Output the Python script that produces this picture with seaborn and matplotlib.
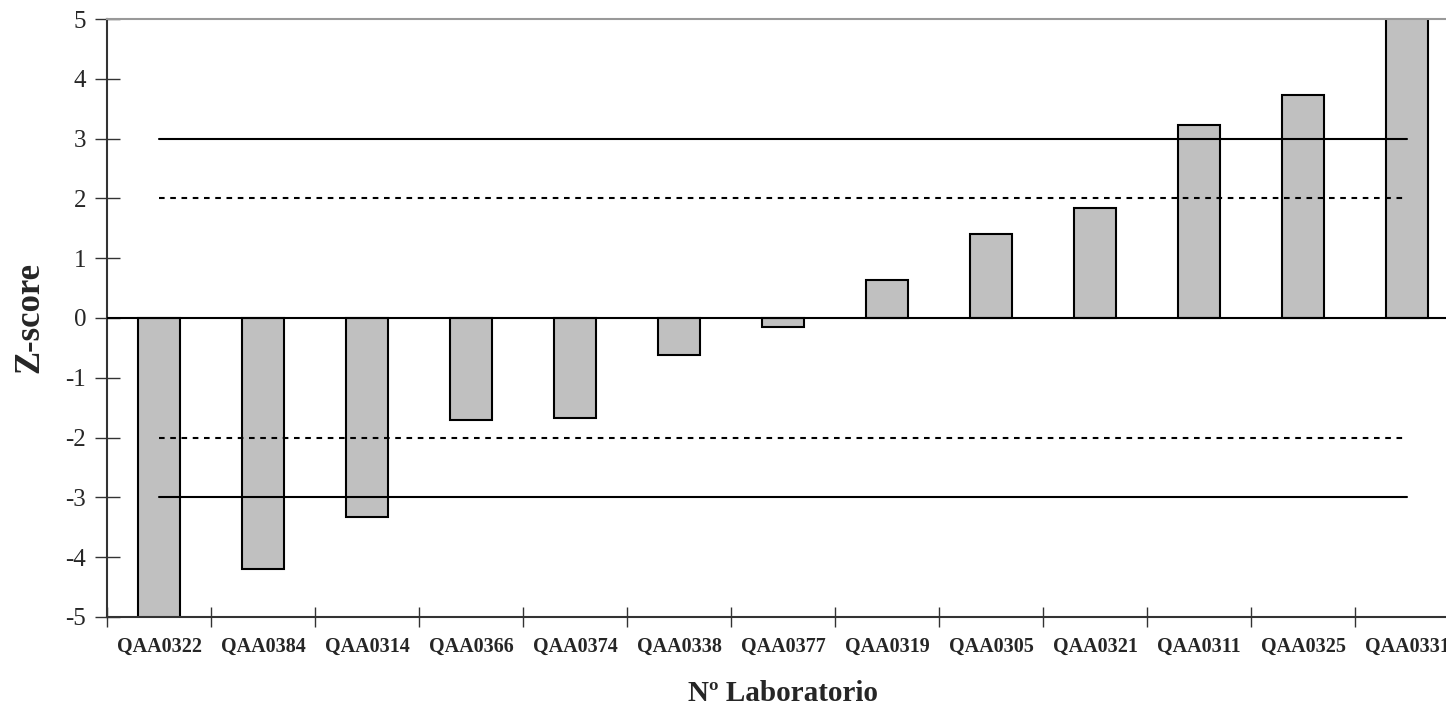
import matplotlib
matplotlib.use("Agg")
import matplotlib.pyplot as plt
import seaborn as sns
import numpy as np
import pandas as pd

# data (first and last bars run off the scale)
labs = ['QAA0322', 'QAA0384', 'QAA0314', 'QAA0366', 'QAA0374', 'QAA0338', 'QAA0377',
        'QAA0319', 'QAA0305', 'QAA0321', 'QAA0311', 'QAA0325', 'QAA0331']
zscores = [-5.6, -4.2, -3.33, -1.7, -1.68, -0.62, -0.15, 0.63, 1.4, 1.84, 3.23, 3.73, 5.6]
limits_solid = [3, -3]
limits_dot = [2, -2]
yticks = [-5, -4, -3, -2, -1, 0, 1, 2, 3, 4, 5]

sns.set_style('white')
plt.rcParams['font.family'] = ['Liberation Serif', 'DejaVu Serif']

df = pd.DataFrame({'lab': labs, 'z': zscores})

fig = plt.figure(figsize=(14.46, 7.09), dpi=100)
ax = fig.add_axes([0.074, 0.1298, 0.935, 0.8434])

sns.barplot(data=df, x='lab', y='z', color='#C0C0C0', edgecolor='black',
            linewidth=1.5, width=0.4, saturation=1, ax=ax, zorder=2)

xs = np.arange(len(labs))
for v in limits_solid:
    ax.plot(xs, [v] * len(xs), color='black', lw=1.5, zorder=3)
for v in limits_dot:
    ax.plot(xs, [v] * len(xs), color='black', lw=1.5, ls=(0, (2.7, 2.7)), zorder=3)
ax.axhline(0, color='black', lw=1.5, zorder=3)

ax.set_ylim(-5, 5)
ax.set_xlim(-0.5, len(labs) - 0.5)
ax.set_yticks(yticks)
ax.set_yticklabels([str(t) for t in yticks], fontsize=18)
ax.tick_params(axis='y', left=True, direction='inout', length=18, width=1, color='#333333', pad=6)

ax.set_xticks(xs)
ax.set_xticklabels(labs, fontsize=14.5, fontweight='bold')
ax.tick_params(axis='x', which='major', bottom=True, length=0, pad=14)
ax.set_xticks(np.arange(len(labs) + 1) - 0.5, minor=True)
ax.tick_params(axis='x', which='minor', bottom=True, direction='inout', length=14, width=1, color='#333333')

ax.set_xlabel('Nº Laboratorio', fontsize=21, fontweight='bold', labelpad=17)
ax.set_ylabel('Z-score', fontsize=25, fontweight='bold', labelpad=14)

for s in ['left', 'bottom']:
    ax.spines[s].set_color('#333333')
    ax.spines[s].set_linewidth(1.5)
ax.spines['top'].set_color('#999999')
ax.spines['top'].set_linewidth(1.5)
ax.spines['right'].set_visible(False)

fig.savefig('out.png', dpi=100)
